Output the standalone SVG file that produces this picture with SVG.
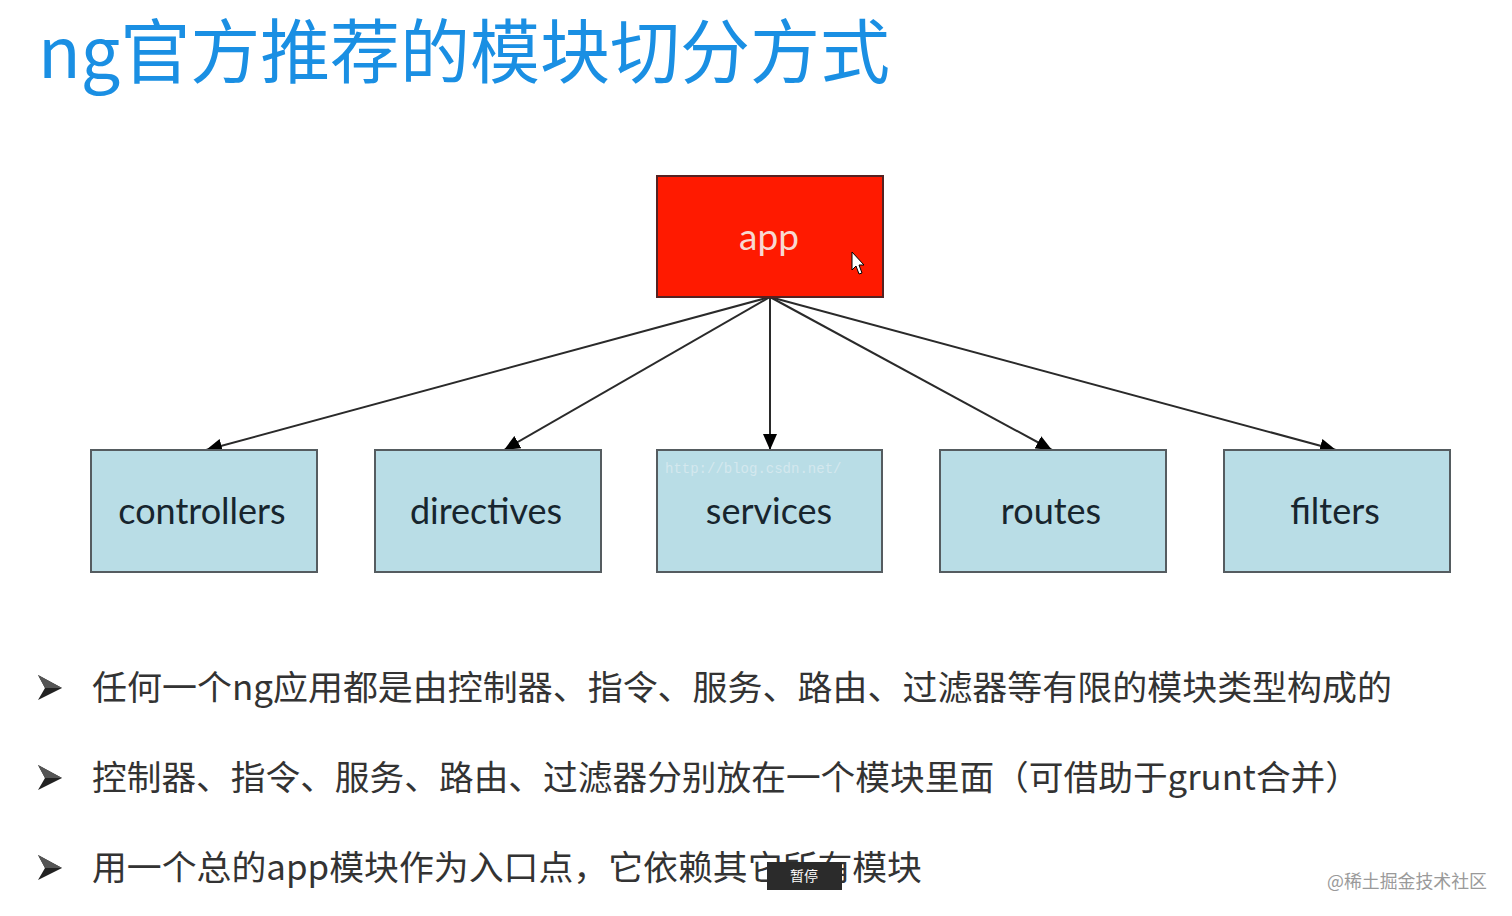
<svg xmlns="http://www.w3.org/2000/svg" width="1512" height="916" viewBox="0 0 1512 916">
<defs>
<style>
.title{font-family:"Noto Sans CJK SC","Noto Sans",sans-serif;font-size:70px;fill:#1a8fe3}
.box{fill:#b9dde6;stroke:#555c60;stroke-width:2}
.lbl{font-family:Lato,"Open Sans",sans-serif;font-size:36px;fill:#17252e;text-anchor:middle}
.bul{font-family:"Noto Sans CJK SC","Noto Sans",sans-serif;font-size:34px;fill:#333}
.conn{stroke:#2a2a2a;stroke-width:2;fill:none;marker-end:url(#ah)}
</style>
<marker id="ah" viewBox="0 0 16 14" refX="16" refY="7" markerWidth="16" markerHeight="14" orient="auto" markerUnits="userSpaceOnUse">
<path d="M0,0 L16,7 L0,14 z" fill="#000"/>
</marker>
<g id="bullet-shape">
<polygon points="0,0 24,13 0,25 7,13" fill="#222"/>
<polygon points="0,0 24,13 7,13" fill="#555"/>
</g>
</defs>
<rect width="1512" height="916" fill="#ffffff"/>
<text class="title" x="38" y="78" textLength="852" lengthAdjust="spacingAndGlyphs">ng官方推荐的模块切分方式</text>

<g id="connectors">
<line class="conn" x1="770" y1="297" x2="206" y2="450"/>
<line class="conn" x1="770" y1="297" x2="504" y2="450"/>
<line class="conn" x1="770" y1="297" x2="770" y2="450"/>
<line class="conn" x1="770" y1="297" x2="1052" y2="450"/>
<line class="conn" x1="770" y1="297" x2="1336" y2="450"/>
</g>

<g id="app">
<rect x="657" y="176" width="226" height="121" fill="#ff1a00" stroke="#552222" stroke-width="2"/>
<text x="769" y="250" font-family="Lato,'Open Sans',sans-serif" font-size="37" fill="#f8d8d0" text-anchor="middle">app</text>
<path d="M852,252 L852,270 L856,266 L859,274 L862,273 L859,265 L864,265 z" fill="#fff" stroke="#000" stroke-width="1"/>
</g>

<g id="controllers">
<rect class="box" x="91" y="450" width="226" height="122"/>
<text class="lbl" x="202" y="524">controllers</text>
</g>
<g id="directives">
<rect class="box" x="375" y="450" width="226" height="122"/>
<text class="lbl" x="486" y="524">directives</text>
</g>
<g id="services">
<rect class="box" x="657" y="450" width="225" height="122"/>
<text x="665" y="473" font-family="'Liberation Mono',monospace" font-size="14" fill="#d4e8ee">http://blog.csdn.net/</text>
<text class="lbl" x="769" y="524">services</text>
</g>
<g id="routes">
<rect class="box" x="940" y="450" width="226" height="122"/>
<text class="lbl" x="1051" y="524">routes</text>
</g>
<g id="filters">
<rect class="box" x="1224" y="450" width="226" height="122"/>
<text class="lbl" x="1335" y="524">filters</text>
</g>

<use href="#bullet-shape" x="38" y="675"/>
<use href="#bullet-shape" x="38" y="765"/>
<use href="#bullet-shape" x="38" y="855"/>
<text class="bul" x="92" y="700" textLength="1300" lengthAdjust="spacingAndGlyphs">任何一个ng应用都是由控制器、指令、服务、路由、过滤器等有限的模块类型构成的</text>
<text class="bul" x="92" y="790" textLength="1268" lengthAdjust="spacingAndGlyphs">控制器、指令、服务、路由、过滤器分别放在一个模块里面（可借助于grunt合并）</text>
<text class="bul" x="92" y="880" textLength="830" lengthAdjust="spacingAndGlyphs">用一个总的app模块作为入口点，它依赖其它所有模块</text>

<rect x="767" y="862" width="75" height="28" fill="#2b2b2b"/>
<text x="804" y="881" font-family="'Noto Sans CJK SC',sans-serif" font-size="14" fill="#fff" text-anchor="middle">暂停</text>

<text x="1327" y="888" font-family="'Noto Sans CJK SC',sans-serif" font-size="18" fill="#9a9a9a" textLength="160" lengthAdjust="spacingAndGlyphs">@稀土掘金技术社区</text>
</svg>
